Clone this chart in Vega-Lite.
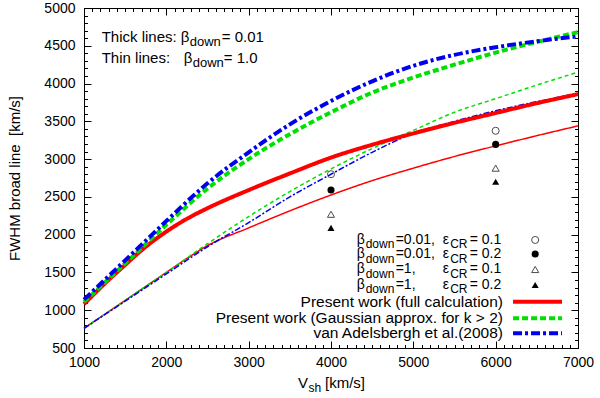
{
  "$schema": "https://vega.github.io/schema/vega-lite/v6.json",
  "width": 494,
  "height": 340,
  "autosize": "none",
  "padding": {"left": 84, "top": 8, "right": 22, "bottom": 50},
  "background": "white",
  "config": {"view": {"stroke": "black", "strokeWidth": 1}, "font": "Liberation Sans", "text": {"font": "Liberation Sans", "color": "black"},
    "axis": {"grid": false, "domain": false, "labels": false, "ticks": false, "gridColor": "black", "gridOpacity": 1, "gridWidth": 1, "labelColor": "black", "labelFont": "Liberation Sans", "labelFontSize": 14, "title": null}},
  "datasets": {
    "curves": [
      {"vsh": 1000, "fwhm": 1080, "model": "full", "beta": "0.01"},
      {"vsh": 1250, "fwhm": 1350, "model": "full", "beta": "0.01"},
      {"vsh": 1500, "fwhm": 1600, "model": "full", "beta": "0.01"},
      {"vsh": 1750, "fwhm": 1840, "model": "full", "beta": "0.01"},
      {"vsh": 2000, "fwhm": 2040, "model": "full", "beta": "0.01"},
      {"vsh": 2250, "fwhm": 2210, "model": "full", "beta": "0.01"},
      {"vsh": 2500, "fwhm": 2350, "model": "full", "beta": "0.01"},
      {"vsh": 3000, "fwhm": 2590, "model": "full", "beta": "0.01"},
      {"vsh": 3500, "fwhm": 2810, "model": "full", "beta": "0.01"},
      {"vsh": 4000, "fwhm": 3020, "model": "full", "beta": "0.01"},
      {"vsh": 4500, "fwhm": 3190, "model": "full", "beta": "0.01"},
      {"vsh": 5000, "fwhm": 3340, "model": "full", "beta": "0.01"},
      {"vsh": 5500, "fwhm": 3480, "model": "full", "beta": "0.01"},
      {"vsh": 6000, "fwhm": 3610, "model": "full", "beta": "0.01"},
      {"vsh": 6500, "fwhm": 3740, "model": "full", "beta": "0.01"},
      {"vsh": 7000, "fwhm": 3860, "model": "full", "beta": "0.01"},
      {"vsh": 1000, "fwhm": 1110, "model": "gauss", "beta": "0.01"},
      {"vsh": 1500, "fwhm": 1620, "model": "gauss", "beta": "0.01"},
      {"vsh": 2000, "fwhm": 2130, "model": "gauss", "beta": "0.01"},
      {"vsh": 2500, "fwhm": 2610, "model": "gauss", "beta": "0.01"},
      {"vsh": 3000, "fwhm": 3000, "model": "gauss", "beta": "0.01"},
      {"vsh": 3500, "fwhm": 3330, "model": "gauss", "beta": "0.01"},
      {"vsh": 4000, "fwhm": 3620, "model": "gauss", "beta": "0.01"},
      {"vsh": 4500, "fwhm": 3880, "model": "gauss", "beta": "0.01"},
      {"vsh": 5000, "fwhm": 4080, "model": "gauss", "beta": "0.01"},
      {"vsh": 5500, "fwhm": 4250, "model": "gauss", "beta": "0.01"},
      {"vsh": 6000, "fwhm": 4410, "model": "gauss", "beta": "0.01"},
      {"vsh": 6500, "fwhm": 4550, "model": "gauss", "beta": "0.01"},
      {"vsh": 7000, "fwhm": 4680, "model": "gauss", "beta": "0.01"},
      {"vsh": 1000, "fwhm": 1140, "model": "vanA", "beta": "0.01"},
      {"vsh": 1250, "fwhm": 1400, "model": "vanA", "beta": "0.01"},
      {"vsh": 1500, "fwhm": 1660, "model": "vanA", "beta": "0.01"},
      {"vsh": 1750, "fwhm": 1920, "model": "vanA", "beta": "0.01"},
      {"vsh": 2000, "fwhm": 2180, "model": "vanA", "beta": "0.01"},
      {"vsh": 2500, "fwhm": 2680, "model": "vanA", "beta": "0.01"},
      {"vsh": 3000, "fwhm": 3090, "model": "vanA", "beta": "0.01"},
      {"vsh": 3500, "fwhm": 3460, "model": "vanA", "beta": "0.01"},
      {"vsh": 4000, "fwhm": 3770, "model": "vanA", "beta": "0.01"},
      {"vsh": 4500, "fwhm": 4030, "model": "vanA", "beta": "0.01"},
      {"vsh": 5000, "fwhm": 4235, "model": "vanA", "beta": "0.01"},
      {"vsh": 5500, "fwhm": 4380, "model": "vanA", "beta": "0.01"},
      {"vsh": 6000, "fwhm": 4480, "model": "vanA", "beta": "0.01"},
      {"vsh": 6500, "fwhm": 4560, "model": "vanA", "beta": "0.01"},
      {"vsh": 7000, "fwhm": 4625, "model": "vanA", "beta": "0.01"},
      {"vsh": 1000, "fwhm": 760, "model": "full", "beta": "1"},
      {"vsh": 1500, "fwhm": 1130, "model": "full", "beta": "1"},
      {"vsh": 2000, "fwhm": 1500, "model": "full", "beta": "1"},
      {"vsh": 2250, "fwhm": 1685, "model": "full", "beta": "1"},
      {"vsh": 2500, "fwhm": 1855, "model": "full", "beta": "1"},
      {"vsh": 3000, "fwhm": 2090, "model": "full", "beta": "1"},
      {"vsh": 3500, "fwhm": 2315, "model": "full", "beta": "1"},
      {"vsh": 4000, "fwhm": 2525, "model": "full", "beta": "1"},
      {"vsh": 4500, "fwhm": 2715, "model": "full", "beta": "1"},
      {"vsh": 5000, "fwhm": 2880, "model": "full", "beta": "1"},
      {"vsh": 5500, "fwhm": 3035, "model": "full", "beta": "1"},
      {"vsh": 6000, "fwhm": 3175, "model": "full", "beta": "1"},
      {"vsh": 6500, "fwhm": 3310, "model": "full", "beta": "1"},
      {"vsh": 7000, "fwhm": 3440, "model": "full", "beta": "1"},
      {"vsh": 1000, "fwhm": 760, "model": "gauss", "beta": "1"},
      {"vsh": 1500, "fwhm": 1130, "model": "gauss", "beta": "1"},
      {"vsh": 2000, "fwhm": 1500, "model": "gauss", "beta": "1"},
      {"vsh": 2500, "fwhm": 1880, "model": "gauss", "beta": "1"},
      {"vsh": 3000, "fwhm": 2240, "model": "gauss", "beta": "1"},
      {"vsh": 3500, "fwhm": 2570, "model": "gauss", "beta": "1"},
      {"vsh": 4000, "fwhm": 2870, "model": "gauss", "beta": "1"},
      {"vsh": 4500, "fwhm": 3140, "model": "gauss", "beta": "1"},
      {"vsh": 5000, "fwhm": 3380, "model": "gauss", "beta": "1"},
      {"vsh": 5500, "fwhm": 3620, "model": "gauss", "beta": "1"},
      {"vsh": 6000, "fwhm": 3800, "model": "gauss", "beta": "1"},
      {"vsh": 6500, "fwhm": 3980, "model": "gauss", "beta": "1"},
      {"vsh": 7000, "fwhm": 4150, "model": "gauss", "beta": "1"},
      {"vsh": 1000, "fwhm": 760, "model": "vanA", "beta": "1"},
      {"vsh": 1500, "fwhm": 1120, "model": "vanA", "beta": "1"},
      {"vsh": 2000, "fwhm": 1480, "model": "vanA", "beta": "1"},
      {"vsh": 2500, "fwhm": 1840, "model": "vanA", "beta": "1"},
      {"vsh": 3000, "fwhm": 2160, "model": "vanA", "beta": "1"},
      {"vsh": 3500, "fwhm": 2500, "model": "vanA", "beta": "1"},
      {"vsh": 4000, "fwhm": 2800, "model": "vanA", "beta": "1"},
      {"vsh": 4500, "fwhm": 3090, "model": "vanA", "beta": "1"},
      {"vsh": 5000, "fwhm": 3340, "model": "vanA", "beta": "1"},
      {"vsh": 5500, "fwhm": 3500, "model": "vanA", "beta": "1"},
      {"vsh": 6000, "fwhm": 3640, "model": "vanA", "beta": "1"},
      {"vsh": 6500, "fwhm": 3760, "model": "vanA", "beta": "1"},
      {"vsh": 7000, "fwhm": 3870, "model": "vanA", "beta": "1"}
    ],
    "points": [
      {"vsh": 4000, "fwhm": 2800, "beta": "0.01", "eps": "0.1"},
      {"vsh": 4000, "fwhm": 2590, "beta": "0.01", "eps": "0.2"},
      {"vsh": 4000, "fwhm": 2270, "beta": "1", "eps": "0.1"},
      {"vsh": 4000, "fwhm": 2090, "beta": "1", "eps": "0.2"},
      {"vsh": 6000, "fwhm": 3375, "beta": "0.01", "eps": "0.1"},
      {"vsh": 6000, "fwhm": 3195, "beta": "0.01", "eps": "0.2"},
      {"vsh": 6000, "fwhm": 2880, "beta": "1", "eps": "0.1"},
      {"vsh": 6000, "fwhm": 2700, "beta": "1", "eps": "0.2"}
    ],
    "one": [{}]
  },
  "layer": [
    {
      "data": {"name": "curves"},
      "transform": [{"filter": "datum.beta === '1'"}],
      "mark": {"type": "line", "strokeWidth": 1.5, "interpolate": "monotone"},
      "encoding": {
        "x": {"field": "vsh", "type": "quantitative", "scale": {"domain": [1000, 7000], "nice": false, "zero": false},
          "axis": {"orient": "bottom", "values": [1000, 2000, 3000, 4000, 5000, 6000, 7000], "grid": true, "gridDash": [7, 326, 7]}},
        "y": {"field": "fwhm", "type": "quantitative", "scale": {"domain": [500, 5000], "nice": false, "zero": false},
          "axis": {"orient": "left", "values": [500, 1000, 1500, 2000, 2500, 3000, 3500, 4000, 4500, 5000], "grid": true, "gridDash": [7, 480, 7]}},
        "color": {"field": "model", "type": "nominal", "scale": {"domain": ["full", "gauss", "vanA"], "range": ["#ff0000", "#00e000", "#0000ee"]}, "legend": null},
        "strokeDash": {"field": "model", "type": "nominal", "scale": {"domain": ["full", "gauss", "vanA"], "range": [[1, 0], [4, 3], [6, 2, 2, 2]]}, "legend": null}
      }
    },
    {
      "data": {"name": "curves"},
      "transform": [{"filter": "datum.beta === '0.01'"}],
      "mark": {"type": "line", "strokeWidth": 4, "interpolate": "monotone"},
      "encoding": {
        "x": {"field": "vsh", "type": "quantitative", "scale": {"domain": [1000, 7000], "nice": false, "zero": false},
          "axis": {"orient": "bottom", "tickCount": 60, "grid": true, "gridDash": [3.5, 333, 3.5]}},
        "y": {"field": "fwhm", "type": "quantitative", "scale": {"domain": [500, 5000], "nice": false, "zero": false},
          "axis": {"orient": "left", "tickCount": 45, "grid": true, "gridDash": [3.5, 487, 3.5]}},
        "color": {"field": "model", "type": "nominal", "scale": {"domain": ["full", "gauss", "vanA"], "range": ["#ff0000", "#00e000", "#0000ee"]}, "legend": null},
        "strokeDash": {"field": "model", "type": "nominal", "scale": {"domain": ["full", "gauss", "vanA"], "range": [[1, 0], [6, 3], [9, 3, 3, 3]]}, "legend": null}
      }
    },
    {
      "data": {"name": "points"},
      "transform": [{"filter": "datum.eps === '0.1'"}],
      "mark": {"type": "point", "filled": false, "color": "black", "strokeWidth": 1, "size": 50},
      "encoding": {
        "x": {"field": "vsh", "type": "quantitative", "axis": null},
        "y": {"field": "fwhm", "type": "quantitative", "axis": null},
        "shape": {"field": "beta", "type": "nominal", "scale": {"domain": ["0.01", "1"], "range": ["circle", "triangle-up"]}, "legend": null}
      }
    },
    {
      "data": {"name": "points"},
      "transform": [{"filter": "datum.eps === '0.2'"}],
      "mark": {"type": "point", "filled": true, "color": "black", "opacity": 1, "size": 50},
      "encoding": {
        "x": {"field": "vsh", "type": "quantitative", "axis": null},
        "y": {"field": "fwhm", "type": "quantitative", "axis": null},
        "shape": {"field": "beta", "type": "nominal", "scale": {"domain": ["0.01", "1"], "range": ["circle", "triangle-up"]}, "legend": null}
      }
    },
    {"data": {"name": "one"}, "mark": {"type": "point", "filled": false, "color": "black", "strokeWidth": 1, "size": 50, "shape": "circle"}, "encoding": {
      "x": {"datum": 6480, "type": "quantitative", "axis": {"orient": "bottom", "values": [1000, 2000, 3000, 4000, 5000, 6000, 7000], "format": "d", "labels": true, "labelOverlap": false, "labelFlush": false, "labelPadding": 7}},
      "y": {"datum": 1930, "type": "quantitative", "axis": {"orient": "left", "values": [500, 1000, 1500, 2000, 2500, 3000, 3500, 4000, 4500, 5000], "format": "d", "labels": true, "labelOverlap": false, "labelFlush": false, "labelPadding": 9, "title": "FWHM broad line\u00a0 [km/s]", "titleFont": "Liberation Sans", "titleFontSize": 15, "titleFontWeight": "normal", "titleColor": "black", "titlePadding": 21}}}},
    {"data": {"name": "one"}, "mark": {"type": "point", "filled": true, "color": "black", "opacity": 1, "size": 50, "shape": "circle"}, "encoding": {"x": {"datum": 6480, "type": "quantitative", "axis": null}, "y": {"datum": 1744, "type": "quantitative", "axis": null}}},
    {"data": {"name": "one"}, "mark": {"type": "point", "filled": false, "color": "black", "strokeWidth": 1, "size": 50, "shape": "triangle-up"}, "encoding": {"x": {"datum": 6480, "type": "quantitative", "axis": null}, "y": {"datum": 1539, "type": "quantitative", "axis": null}}},
    {"data": {"name": "one"}, "mark": {"type": "point", "filled": true, "color": "black", "opacity": 1, "size": 50, "shape": "triangle-up"}, "encoding": {"x": {"datum": 6480, "type": "quantitative", "axis": null}, "y": {"datum": 1334, "type": "quantitative", "axis": null}}},
    {"data": {"name": "one"}, "mark": {"type": "rule", "color": "#ff0000", "strokeWidth": 4}, "encoding": {"x": {"datum": 6211, "type": "quantitative", "axis": null}, "x2": {"datum": 6806}, "y": {"datum": 1113, "type": "quantitative", "axis": null}}},
    {"data": {"name": "one"}, "mark": {"type": "rule", "color": "#00e000", "strokeWidth": 4, "strokeDash": [6, 3]}, "encoding": {"x": {"datum": 6211, "type": "quantitative", "axis": null}, "x2": {"datum": 6806}, "y": {"datum": 893, "type": "quantitative", "axis": null}}},
    {"data": {"name": "one"}, "mark": {"type": "rule", "color": "#0000ee", "strokeWidth": 4, "strokeDash": [9, 3, 3, 3]}, "encoding": {"x": {"datum": 6211, "type": "quantitative", "axis": null}, "x2": {"datum": 6806}, "y": {"datum": 695, "type": "quantitative", "axis": null}}},
    {"data": {"name": "one"}, "mark": {"type": "text", "align": "right", "baseline": "middle", "fontSize": 15.5, "text": "Present work (full calculation)"}, "encoding": {"x": {"datum": 6089, "type": "quantitative", "axis": null}, "y": {"datum": 1113, "type": "quantitative", "axis": null}}},
    {"data": {"name": "one"}, "mark": {"type": "text", "align": "right", "baseline": "middle", "fontSize": 15.5, "text": "Present work (Gaussian approx. for k > 2)"}, "encoding": {"x": {"datum": 6089, "type": "quantitative", "axis": null}, "y": {"datum": 893, "type": "quantitative", "axis": null}}},
    {"data": {"name": "one"}, "mark": {"type": "text", "align": "right", "baseline": "middle", "fontSize": 15.5, "text": "van Adelsbergh et al.(2008)"}, "encoding": {"x": {"datum": 6089, "type": "quantitative", "axis": null}, "y": {"datum": 695, "type": "quantitative", "axis": null}}},

    {"data": {"name": "one"}, "mark": {"type": "text", "align": "left", "baseline": "middle", "fontSize": 14, "text": "β"}, "encoding": {"x": {"datum": 4312, "type": "quantitative", "axis": null}, "y": {"datum": 1930, "type": "quantitative", "axis": null}}},
    {"data": {"name": "one"}, "mark": {"type": "text", "align": "left", "baseline": "middle", "fontSize": 12, "dx": 9, "dy": 4.5, "text": "down"}, "encoding": {"x": {"datum": 4312, "type": "quantitative", "axis": null}, "y": {"datum": 1930, "type": "quantitative", "axis": null}}},
    {"data": {"name": "one"}, "mark": {"type": "text", "align": "left", "baseline": "middle", "fontSize": 14, "dx": 39, "text": "=0.01,"}, "encoding": {"x": {"datum": 4312, "type": "quantitative", "axis": null}, "y": {"datum": 1930, "type": "quantitative", "axis": null}}},
    {"data": {"name": "one"}, "mark": {"type": "text", "align": "left", "baseline": "middle", "fontSize": 14, "dx": 86, "text": "ε"}, "encoding": {"x": {"datum": 4312, "type": "quantitative", "axis": null}, "y": {"datum": 1930, "type": "quantitative", "axis": null}}},
    {"data": {"name": "one"}, "mark": {"type": "text", "align": "left", "baseline": "middle", "fontSize": 12, "dx": 93.5, "dy": 4.5, "text": "CR"}, "encoding": {"x": {"datum": 4312, "type": "quantitative", "axis": null}, "y": {"datum": 1930, "type": "quantitative", "axis": null}}},
    {"data": {"name": "one"}, "mark": {"type": "text", "align": "left", "baseline": "middle", "fontSize": 14, "dx": 113, "text": "= 0.1"}, "encoding": {"x": {"datum": 4312, "type": "quantitative", "axis": null}, "y": {"datum": 1930, "type": "quantitative", "axis": null}}},

    {"data": {"name": "one"}, "mark": {"type": "text", "align": "left", "baseline": "middle", "fontSize": 14, "text": "β"}, "encoding": {"x": {"datum": 4312, "type": "quantitative", "axis": null}, "y": {"datum": 1744, "type": "quantitative", "axis": null}}},
    {"data": {"name": "one"}, "mark": {"type": "text", "align": "left", "baseline": "middle", "fontSize": 12, "dx": 9, "dy": 4.5, "text": "down"}, "encoding": {"x": {"datum": 4312, "type": "quantitative", "axis": null}, "y": {"datum": 1744, "type": "quantitative", "axis": null}}},
    {"data": {"name": "one"}, "mark": {"type": "text", "align": "left", "baseline": "middle", "fontSize": 14, "dx": 39, "text": "=0.01,"}, "encoding": {"x": {"datum": 4312, "type": "quantitative", "axis": null}, "y": {"datum": 1744, "type": "quantitative", "axis": null}}},
    {"data": {"name": "one"}, "mark": {"type": "text", "align": "left", "baseline": "middle", "fontSize": 14, "dx": 86, "text": "ε"}, "encoding": {"x": {"datum": 4312, "type": "quantitative", "axis": null}, "y": {"datum": 1744, "type": "quantitative", "axis": null}}},
    {"data": {"name": "one"}, "mark": {"type": "text", "align": "left", "baseline": "middle", "fontSize": 12, "dx": 93.5, "dy": 4.5, "text": "CR"}, "encoding": {"x": {"datum": 4312, "type": "quantitative", "axis": null}, "y": {"datum": 1744, "type": "quantitative", "axis": null}}},
    {"data": {"name": "one"}, "mark": {"type": "text", "align": "left", "baseline": "middle", "fontSize": 14, "dx": 113, "text": "= 0.2"}, "encoding": {"x": {"datum": 4312, "type": "quantitative", "axis": null}, "y": {"datum": 1744, "type": "quantitative", "axis": null}}},

    {"data": {"name": "one"}, "mark": {"type": "text", "align": "left", "baseline": "middle", "fontSize": 14, "text": "β"}, "encoding": {"x": {"datum": 4312, "type": "quantitative", "axis": null}, "y": {"datum": 1539, "type": "quantitative", "axis": null}}},
    {"data": {"name": "one"}, "mark": {"type": "text", "align": "left", "baseline": "middle", "fontSize": 12, "dx": 9, "dy": 4.5, "text": "down"}, "encoding": {"x": {"datum": 4312, "type": "quantitative", "axis": null}, "y": {"datum": 1539, "type": "quantitative", "axis": null}}},
    {"data": {"name": "one"}, "mark": {"type": "text", "align": "left", "baseline": "middle", "fontSize": 14, "dx": 39, "text": "=1,"}, "encoding": {"x": {"datum": 4312, "type": "quantitative", "axis": null}, "y": {"datum": 1539, "type": "quantitative", "axis": null}}},
    {"data": {"name": "one"}, "mark": {"type": "text", "align": "left", "baseline": "middle", "fontSize": 14, "dx": 86, "text": "ε"}, "encoding": {"x": {"datum": 4312, "type": "quantitative", "axis": null}, "y": {"datum": 1539, "type": "quantitative", "axis": null}}},
    {"data": {"name": "one"}, "mark": {"type": "text", "align": "left", "baseline": "middle", "fontSize": 12, "dx": 93.5, "dy": 4.5, "text": "CR"}, "encoding": {"x": {"datum": 4312, "type": "quantitative", "axis": null}, "y": {"datum": 1539, "type": "quantitative", "axis": null}}},
    {"data": {"name": "one"}, "mark": {"type": "text", "align": "left", "baseline": "middle", "fontSize": 14, "dx": 113, "text": "= 0.1"}, "encoding": {"x": {"datum": 4312, "type": "quantitative", "axis": null}, "y": {"datum": 1539, "type": "quantitative", "axis": null}}},

    {"data": {"name": "one"}, "mark": {"type": "text", "align": "left", "baseline": "middle", "fontSize": 14, "text": "β"}, "encoding": {"x": {"datum": 4312, "type": "quantitative", "axis": null}, "y": {"datum": 1334, "type": "quantitative", "axis": null}}},
    {"data": {"name": "one"}, "mark": {"type": "text", "align": "left", "baseline": "middle", "fontSize": 12, "dx": 9, "dy": 4.5, "text": "down"}, "encoding": {"x": {"datum": 4312, "type": "quantitative", "axis": null}, "y": {"datum": 1334, "type": "quantitative", "axis": null}}},
    {"data": {"name": "one"}, "mark": {"type": "text", "align": "left", "baseline": "middle", "fontSize": 14, "dx": 39, "text": "=1,"}, "encoding": {"x": {"datum": 4312, "type": "quantitative", "axis": null}, "y": {"datum": 1334, "type": "quantitative", "axis": null}}},
    {"data": {"name": "one"}, "mark": {"type": "text", "align": "left", "baseline": "middle", "fontSize": 14, "dx": 86, "text": "ε"}, "encoding": {"x": {"datum": 4312, "type": "quantitative", "axis": null}, "y": {"datum": 1334, "type": "quantitative", "axis": null}}},
    {"data": {"name": "one"}, "mark": {"type": "text", "align": "left", "baseline": "middle", "fontSize": 12, "dx": 93.5, "dy": 4.5, "text": "CR"}, "encoding": {"x": {"datum": 4312, "type": "quantitative", "axis": null}, "y": {"datum": 1334, "type": "quantitative", "axis": null}}},
    {"data": {"name": "one"}, "mark": {"type": "text", "align": "left", "baseline": "middle", "fontSize": 14, "dx": 113, "text": "= 0.2"}, "encoding": {"x": {"datum": 4312, "type": "quantitative", "axis": null}, "y": {"datum": 1334, "type": "quantitative", "axis": null}}},

    {"data": {"name": "one"}, "mark": {"type": "text", "align": "left", "baseline": "middle", "fontSize": 15, "text": "Thick lines:"}, "encoding": {"x": {"datum": 1215, "type": "quantitative", "axis": null}, "y": {"datum": 4620, "type": "quantitative", "axis": null}}},
    {"data": {"name": "one"}, "mark": {"type": "text", "align": "left", "baseline": "middle", "fontSize": 15, "dx": 79, "text": "β"}, "encoding": {"x": {"datum": 1215, "type": "quantitative", "axis": null}, "y": {"datum": 4620, "type": "quantitative", "axis": null}}},
    {"data": {"name": "one"}, "mark": {"type": "text", "align": "left", "baseline": "middle", "fontSize": 13, "dx": 88, "dy": 5, "text": "down"}, "encoding": {"x": {"datum": 1215, "type": "quantitative", "axis": null}, "y": {"datum": 4620, "type": "quantitative", "axis": null}}},
    {"data": {"name": "one"}, "mark": {"type": "text", "align": "left", "baseline": "middle", "fontSize": 15, "dx": 120, "text": "= 0.01"}, "encoding": {"x": {"datum": 1215, "type": "quantitative", "axis": null}, "y": {"datum": 4620, "type": "quantitative", "axis": null}}},
    {"data": {"name": "one"}, "mark": {"type": "text", "align": "left", "baseline": "middle", "fontSize": 15, "text": "Thin lines:"}, "encoding": {"x": {"datum": 1215, "type": "quantitative", "axis": null}, "y": {"datum": 4334, "type": "quantitative", "axis": null}}},
    {"data": {"name": "one"}, "mark": {"type": "text", "align": "left", "baseline": "middle", "fontSize": 15, "dx": 82, "text": "β"}, "encoding": {"x": {"datum": 1215, "type": "quantitative", "axis": null}, "y": {"datum": 4334, "type": "quantitative", "axis": null}}},
    {"data": {"name": "one"}, "mark": {"type": "text", "align": "left", "baseline": "middle", "fontSize": 13, "dx": 91, "dy": 5, "text": "down"}, "encoding": {"x": {"datum": 1215, "type": "quantitative", "axis": null}, "y": {"datum": 4334, "type": "quantitative", "axis": null}}},
    {"data": {"name": "one"}, "mark": {"type": "text", "align": "left", "baseline": "middle", "fontSize": 15, "dx": 122, "text": "= 1.0"}, "encoding": {"x": {"datum": 1215, "type": "quantitative", "axis": null}, "y": {"datum": 4334, "type": "quantitative", "axis": null}}},

    {"data": {"name": "one"}, "mark": {"type": "text", "align": "left", "baseline": "middle", "fontSize": 15, "text": "V"}, "encoding": {"x": {"datum": 3599, "type": "quantitative", "axis": null}, "y": {"datum": 37, "type": "quantitative", "axis": null}}},
    {"data": {"name": "one"}, "mark": {"type": "text", "align": "left", "baseline": "middle", "fontSize": 12, "dx": 10.5, "dy": 5, "text": "sh"}, "encoding": {"x": {"datum": 3599, "type": "quantitative", "axis": null}, "y": {"datum": 37, "type": "quantitative", "axis": null}}},
    {"data": {"name": "one"}, "mark": {"type": "text", "align": "left", "baseline": "middle", "fontSize": 15, "dx": 27, "text": "[km/s]"}, "encoding": {"x": {"datum": 3599, "type": "quantitative", "axis": null}, "y": {"datum": 37, "type": "quantitative", "axis": null}}}
  ],
  "resolve": {"axis": {"x": "independent", "y": "independent"}, "scale": {"strokeDash": "independent"}}
}
